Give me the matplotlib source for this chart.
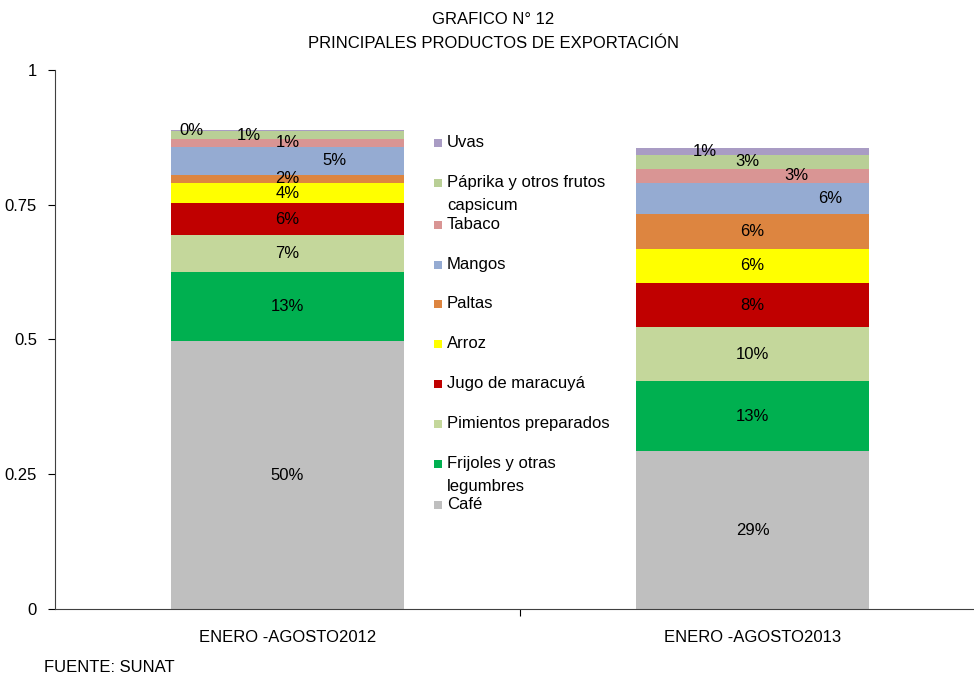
import matplotlib
matplotlib.use("Agg")
import matplotlib.pyplot as plt
from matplotlib.patches import Rectangle
import numpy as np

plt.rcParams['font.family'] = ['Liberation Sans Narrow', 'Liberation Sans', 'DejaVu Sans']

categories = ["ENERO -AGOSTO2012", "ENERO -AGOSTO2013"]
series_names = ["Café", "Frijoles y otras\nlegumbres", "Pimientos preparados",
                "Jugo de maracuyá", "Arroz", "Paltas", "Mangos", "Tabaco",
                "Páprika y otros frutos\ncapsicum", "Uvas"]
cafe = [0.497, 0.293]
frijoles = [0.128, 0.130]
pimientos = [0.069, 0.100]
jugo = [0.059, 0.082]
arroz = [0.037, 0.063]
paltas = [0.016, 0.065]
mangos = [0.052, 0.058]
tabaco = [0.014, 0.026]
paprika = [0.014, 0.026]
uvas = [0.002, 0.013]
series_values = [cafe, frijoles, pimientos, jugo, arroz, paltas, mangos, tabaco, paprika, uvas]
colors = ["#BFBFBF", "#00B050", "#C4D79B", "#C00000", "#FFFF00", "#DD8540",
          "#95ABD2", "#D99594", "#B9CF96", "#A99CC4"]
# horizontal label offsets (data units) per series per bar
label_dx = [[0, 0], [0, 0], [0, 0], [0, 0], [0, 0], [0, 0],
            [0.10, 0.168], [0, 0.095], [-0.084, -0.01], [-0.206, -0.103]]
yticks = [0, 0.25, 0.5, 0.75, 1]
ytick_labels = ["0", "0.25", "0.5", "0.75", "1"]

W, H = 974, 678
fig = plt.figure(figsize=(W / 100, H / 100), dpi=100)
ax = fig.add_axes([55 / W, 1 - 609 / H, 930 / W, 539 / H])

x = np.arange(len(categories))
bottom = np.zeros(len(categories))
fs = 12
for name, vals, col, dxs in zip(series_names, series_values, colors, label_dx):
    vals = np.array(vals)
    ax.bar(x, vals, width=0.5, bottom=bottom, color=col, edgecolor='none', label=name)
    for i in range(len(x)):
        ax.text(x[i] + dxs[i], bottom[i] + vals[i] / 2, f"{round(vals[i] * 100)}%",
                ha='center', va='center', fontsize=fs, color='black')
    bottom = bottom + vals

ax.set_xlim(-0.5, 1.5)
ax.set_ylim(0, 1)
ax.set_yticks(yticks)
ax.set_yticklabels(ytick_labels, fontsize=fs)
ax.set_xticks(x)
ax.set_xticklabels(categories, fontsize=fs)
ax.tick_params(axis='x', length=0, pad=15)
ax.set_xticks([0.5], minor=True)
ax.tick_params(axis='x', which='minor', length=5, direction='out', width=0.8)
ax.tick_params(axis='y', length=5, direction='out', width=0.8, pad=8)
for s in ['top', 'right']:
    ax.spines[s].set_visible(False)
for s in ['left', 'bottom']:
    ax.spines[s].set_linewidth(0.8)
    ax.spines[s].set_color('#404040')

# legend drawn manually (overlapping two-line labels as in reference)
leg_y = [505, 464, 424, 384, 344, 304, 265, 225, 183, 143]
for name, col, yy in zip(series_names, colors, leg_y):
    fig.patches.append(Rectangle((434 / W, 1 - (yy + 4) / H), 8 / W, 8 / H,
                                 transform=fig.transFigure, facecolor=col, edgecolor='none'))
    fig.text(447 / W, 1 - (yy - 8) / H, name, ha='left', va='top', fontsize=fs,
             linespacing=1.65)

fig.text(493 / W, 1 - 20 / H, "GRAFICO N° 12", ha='center', va='center', fontsize=fs)
fig.text(493 / W, 1 - 44 / H, "PRINCIPALES PRODUCTOS DE EXPORTACIÓN", ha='center', va='center', fontsize=fs)
fig.text(44 / W, 1 - 667 / H, "FUENTE: SUNAT", ha='left', va='center', fontsize=fs)

fig.savefig("out.png", dpi=100)
